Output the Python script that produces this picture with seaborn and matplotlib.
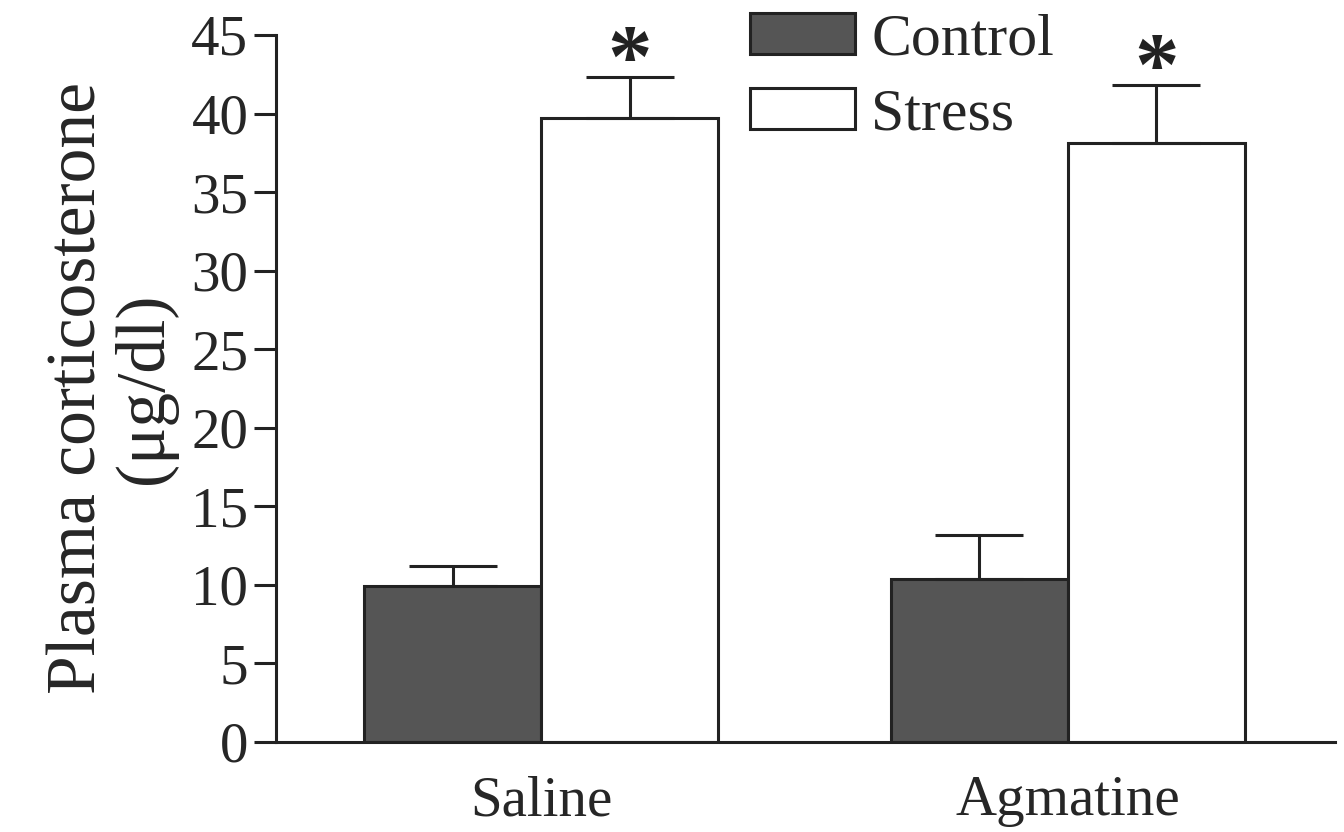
import pandas as pd
import matplotlib
matplotlib.use('Agg')
import matplotlib.pyplot as plt
import seaborn as sns

# values (upper SEM only)
treatments = ['Saline', 'Agmatine']
groups = ['Control', 'Stress']
control_mean = [9.9, 10.4]
control_err = [1.3, 2.8]
stress_mean = [39.7, 38.1]
stress_err = [2.6, 3.7]
significant = ['Stress']  # groups marked with *

df = pd.DataFrame({
    'treatment': treatments * 2,
    'group': [groups[0]] * 2 + [groups[1]] * 2,
    'value': control_mean + stress_mean,
})
errors = {'Control': control_err, 'Stress': stress_err}

sns.set_style('ticks')
plt.rcParams['font.family'] = ['Liberation Serif', 'DejaVu Serif']
plt.rcParams['font.size'] = 41

fig = plt.figure(figsize=(13.44, 8.32), dpi=100)
ax = fig.add_axes([0.2054, 0.1082, 0.7879, 0.8498])

sns.barplot(data=df, x='treatment', y='value', hue='group', order=treatments,
            hue_order=groups, palette=['#555555', 'white'], edgecolor='#222222',
            linewidth=2.2, width=0.672, errorbar=None, legend=True, ax=ax)

# error bars + asterisks on top of the bars
for grp, cont in zip(groups, ax.containers):
    xs = [b.get_x() + b.get_width() / 2 for b in cont]
    hs = [b.get_height() for b in cont]
    err = errors[grp]
    ax.errorbar(xs, hs, yerr=[[0] * len(err), err], fmt='none', ecolor='#222222',
                elinewidth=2.2, capsize=32, capthick=2.2, zorder=1)
    if grp in significant:
        for x, h, e in zip(xs, hs, err):
            ax.text(x, h + e - 0.5, '*', ha='center', va='baseline', fontsize=64,
                    fontweight='bold', color='#222222', clip_on=False)

ax.set_ylim(0, 45)
ax.set_xlim(-0.503, 1.507)
ax.set_yticks(range(0, 46, 5))
ax.set_xlabel('')
ax.set_ylabel('Plasma corticosterone\n(μg/dl)', fontsize=50, linespacing=1.05, labelpad=10)
sns.despine(ax=ax)
for s in ['left', 'bottom']:
    ax.spines[s].set_linewidth(2.2)
    ax.spines[s].set_color('#222222')
ax.tick_params(axis='y', length=16, width=2.2, color='#222222', pad=4, labelsize=41)
ax.tick_params(axis='x', length=0, pad=24, labelsize=41)

handles, labels = ax.get_legend_handles_labels()
ax.legend(handles, labels, loc='upper left', bbox_to_anchor=(750 / 1344, 1 - 13 / 832),
          bbox_transform=fig.transFigure, frameon=False, fontsize=43,
          handlelength=1.75, handleheight=0.68, handletextpad=0.28,
          labelspacing=0.34, borderpad=0, borderaxespad=0)

fig.savefig('out.png', dpi=100)
